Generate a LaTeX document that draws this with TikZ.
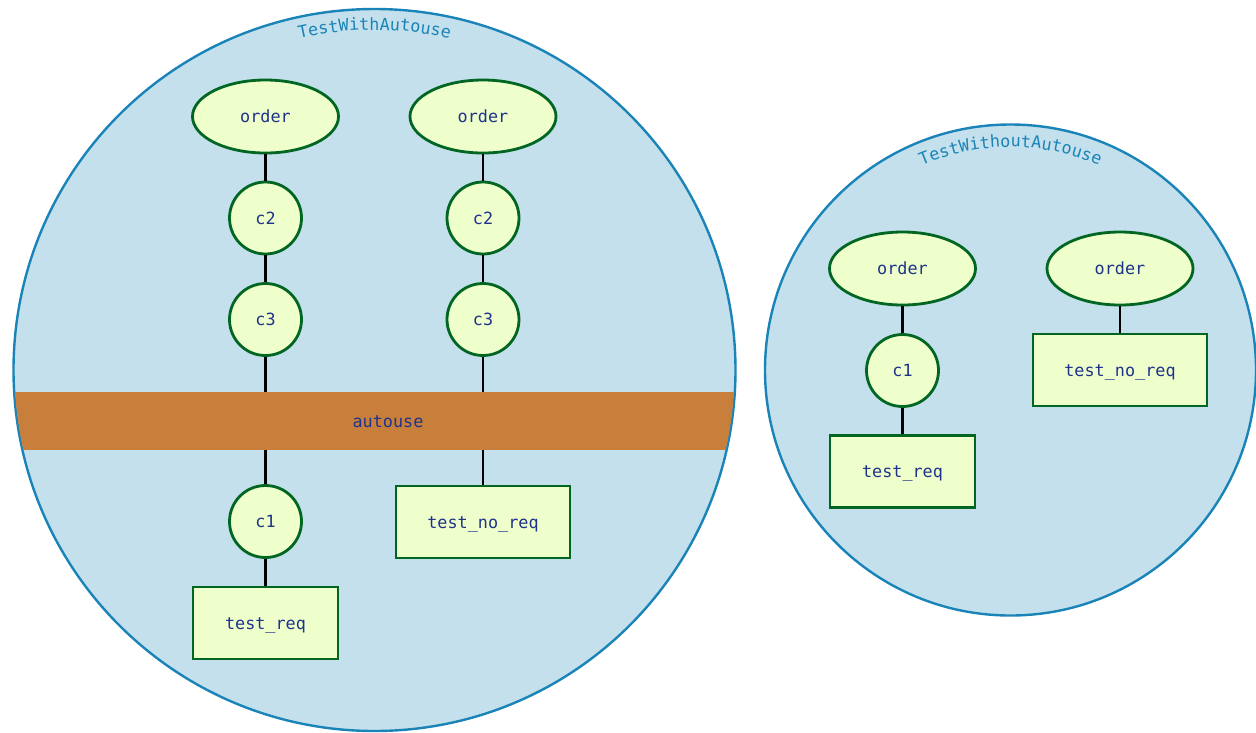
\documentclass[tikz,border=0pt]{standalone}
\usepackage{fontspec}
\setmonofont{DejaVu Sans Mono}
\usetikzlibrary{shapes.geometric,decorations.text}
\definecolor{bgfill}{HTML}{C3E0EC}
\definecolor{bgline}{HTML}{1A84B8}
\definecolor{nfill}{HTML}{EEFFCC}
\definecolor{nline}{HTML}{006622}
\definecolor{bandcol}{HTML}{C87F3C}
\definecolor{txtcol}{HTML}{1F338A}
\definecolor{titlecol}{HTML}{1A84B8}
\tikzset{
  lbl/.style={font=\ttfamily\fontsize{16.8}{18}\selectfont, text=txtcol, text height=12pt, text depth=0pt},
  ordernode/.style={ellipse, draw=nline, fill=nfill, line width=2.8pt, minimum width=146pt, minimum height=73pt, inner sep=0pt, lbl},
  fixnode/.style={circle, draw=nline, fill=nfill, line width=2.8pt, minimum size=72pt, inner sep=0pt, lbl},
  testnode/.style={rectangle, draw=nline, fill=nfill, line width=2.8pt, minimum height=72pt, inner sep=0pt, lbl},
  conn/.style={draw=black, line width=2.4pt},
  grp/.style={draw=bgline, fill=bgfill, line width=2.4pt},
}
\begin{document}
\begin{tikzpicture}[x=1pt,y=1pt]
\useasboundingbox (0,0) rectangle (1256,-732);
% groups
\coordinate (gA) at (374.5,-370);
\coordinate (gB) at (1010.5,-370);
\path[grp] (gA) circle (361);
\path[grp] (gB) circle (245.5);
\begin{scope}
  \clip (gA) circle (360);
  \node[rectangle, fill=bandcol, minimum width=760pt, minimum height=58pt, inner sep=0pt, lbl] (band) at (388,-421) {autouse};
\end{scope}
\path[decorate, decoration={text along path, text align=center,
  text={|\ttfamily\fontsize{16.8}{18}\selectfont\color{titlecol}|TestWithAutouse}}]
  (gA) ++(115:340) arc (115:65:340);
\path[decorate, decoration={text along path, text align=center,
  text={|\ttfamily\fontsize{16.8}{18}\selectfont\color{titlecol}|TestWithoutAutouse}}]
  (gB) ++(125:223) arc (125:55:223);
% left group nodes
\node[ordernode] (oA1) at (265.5,-116.5) {order};
\node[fixnode] (c2A1) at (265.5,-218) {c2};
\node[fixnode] (c3A1) at (265.5,-319.5) {c3};
\node[fixnode] (c1A1) at (265.5,-521.5) {c1};
\node[testnode, minimum width=145pt] (trA) at (265.5,-623) {test\_req};
\node[ordernode] (oA2) at (483,-116.5) {order};
\node[fixnode] (c2A2) at (483,-218) {c2};
\node[fixnode] (c3A2) at (483,-319.5) {c3};
\node[testnode, minimum width=174pt] (tnA) at (483,-522) {test\_no\_req};
% right group nodes
\node[ordernode] (oB1) at (902.5,-268.5) {order};
\node[fixnode] (c1B1) at (902.5,-370.5) {c1};
\node[testnode, minimum width=145pt] (trB) at (902.5,-471.5) {test\_req};
\node[ordernode] (oB2) at (1120,-268.5) {order};
\node[testnode, minimum width=174pt] (tnB) at (1120,-370) {test\_no\_req};
% connectors
\draw[conn] (oA1) -- (c2A1);
\draw[conn] (c2A1) -- (c3A1);
\draw[conn] (c3A1) -- (c3A1 |- band.north);
\draw[conn] (c1A1 |- band.south) -- (c1A1);
\draw[conn] (c1A1) -- (trA);
\draw[conn] (oA2) -- (c2A2);
\draw[conn] (c2A2) -- (c3A2);
\draw[conn] (c3A2) -- (c3A2 |- band.north);
\draw[conn] (tnA |- band.south) -- (tnA);
\draw[conn] (oB1) -- (c1B1);
\draw[conn] (c1B1) -- (trB);
\draw[conn] (oB2) -- (tnB);
\end{tikzpicture}
\end{document}
